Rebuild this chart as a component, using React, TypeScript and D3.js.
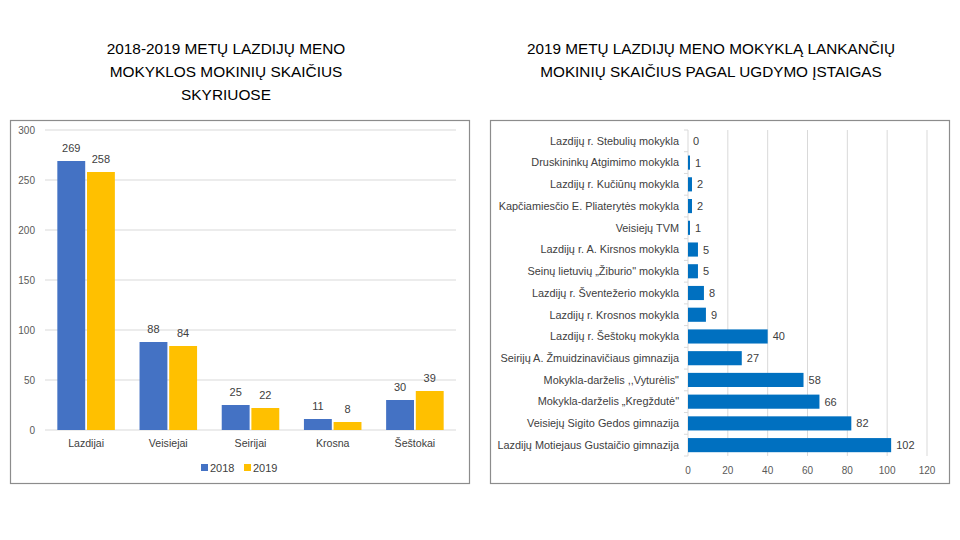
import React from "react";
import * as d3 from "d3";

const towns = ["Lazdijai", "Veisiejai", "Seirijai", "Krosna", "Šeštokai"];
const years = ["2018", "2019"];
const values2018 = [269, 88, 25, 11, 30];
const values2019 = [258, 84, 22, 8, 39];
const leftTicks = [0, 50, 100, 150, 200, 250, 300];

const schools = [
  "Lazdijų r. Stebulių mokykla",
  "Druskininkų Atgimimo mokykla",
  "Lazdijų r. Kučiūnų mokykla",
  "Kapčiamiesčio E. Pliaterytės mokykla",
  "Veisiejų TVM",
  "Lazdijų r. A. Kirsnos mokykla",
  "Seinų lietuvių „Žiburio\" mokykla",
  "Lazdijų r. Šventežerio mokykla",
  "Lazdijų r. Krosnos mokykla",
  "Lazdijų r. Šeštokų mokykla",
  "Seirijų A. Žmuidzinavičiaus gimnazija",
  "Mokykla-darželis ,,Vyturėlis\"",
  "Mokykla-darželis „Kregždutė\"",
  "Veisiejų Sigito Gedos gimnazija",
  "Lazdijų Motiejaus Gustaičio gimnazija",
];
const schoolValues = [0, 1, 2, 2, 1, 5, 5, 8, 9, 40, 27, 58, 66, 82, 102];
const rightTicks = [0, 20, 40, 60, 80, 100, 120];

const FONT = "'Liberation Sans', Arial, sans-serif";
const BLUE = "#4472C4";
const GOLD = "#FFC000";
const BAR2 = "#0070C0";
const GRID = "#d9d9d9";
const TXT = "#404040";

export default function App() {
  // Left chart
  const x0 = d3.scaleBand<string>().domain(towns).range([45, 456]).paddingInner(0.3).paddingOuter(0.15);
  const x1 = d3.scaleBand<string>().domain(years).range([0, x0.bandwidth()]).paddingInner(0.06);
  const yL = d3.scaleLinear().domain([0, 300]).range([430, 130]);
  const seriesVals = [values2018, values2019];
  const colors = [BLUE, GOLD];

  // Right chart
  const xR = d3.scaleLinear().domain([0, 120]).range([688, 927]);
  const yR = d3.scaleBand<string>().domain(schools).range([130, 456]).paddingInner(0.35).paddingOuter(0.175);

  return (
    <svg width={960} height={540} style={{ position: "absolute", left: 0, top: 0, background: "#fff" }} fontFamily={FONT}>
      <rect x={0} y={0} width={960} height={540} fill="#fff" />
      {/* Left title */}
      {["2018-2019 METŲ LAZDIJŲ MENO", "MOKYKLOS MOKINIŲ SKAIČIUS", "SKYRIUOSE"].map((t, i) => (
        <text key={t} x={226} y={54 + i * 23} textAnchor="middle" fontSize={15.4} fill="#000">{t}</text>
      ))}
      {/* Right title */}
      {["2019 METŲ LAZDIJŲ MENO MOKYKLĄ LANKANČIŲ", "MOKINIŲ SKAIČIUS PAGAL UGDYMO ĮSTAIGAS"].map((t, i) => (
        <text key={t} x={711} y={54 + i * 23} textAnchor="middle" fontSize={15.3} fill="#000">{t}</text>
      ))}

      {/* Left box */}
      <rect x={10.5} y={120.5} width={459} height={363} fill="#fff" stroke="#8c8c8c" strokeWidth={1.2} />
      {leftTicks.map((t) => (
        <g key={t}>
          <line x1={45} x2={456} y1={yL(t)} y2={yL(t)} stroke={GRID} strokeWidth={1} />
          <text x={35} y={yL(t) + 3.5} textAnchor="end" fontSize={10} fill="#595959">{t}</text>
        </g>
      ))}
      {towns.map((c, i) => (
        <g key={c}>
          {seriesVals.map((vals, s) => {
            const x = (x0(c) as number) + (x1(years[s]) as number);
            const w = x1.bandwidth();
            return (
              <g key={s}>
                <rect x={x} y={yL(vals[i])} width={w} height={yL(0) - yL(vals[i])} fill={colors[s]} />
                <text x={x + w / 2} y={yL(vals[i]) - 9} textAnchor="middle" fontSize={11} fill={TXT}>{vals[i]}</text>
              </g>
            );
          })}
          <text x={(x0(c) as number) + x0.bandwidth() / 2} y={447} textAnchor="middle" fontSize={10.6} fill={TXT}>{c}</text>
        </g>
      ))}
      {/* Legend */}
      {years.map((yr, s) => (
        <g key={yr}>
          <rect x={201 + s * 43} y={464} width={7} height={7} fill={colors[s]} />
          <text x={210 + s * 43} y={472} fontSize={11} fill={TXT}>{yr}</text>
        </g>
      ))}

      {/* Right box */}
      <rect x={490.5} y={120.5} width={459} height={363} fill="#fff" stroke="#8c8c8c" strokeWidth={1.2} />
      {rightTicks.map((t) => (
        <g key={t}>
          {t > 0 && <line x1={xR(t)} x2={xR(t)} y1={130} y2={456} stroke={GRID} strokeWidth={1} />}
          <text x={xR(t)} y={474} textAnchor="middle" fontSize={10} fill="#595959">{t}</text>
        </g>
      ))}
      <line x1={688} x2={688} y1={130} y2={456} stroke={GRID} strokeWidth={1} />
      {schools.map((s, i) => {
        const y = yR(s) as number;
        const h = yR.bandwidth();
        const step = yR.step();
        return (
          <g key={s}>
            <line x1={684} x2={688} y1={y - (step - h) / 2} y2={y - (step - h) / 2} stroke={GRID} />
            {schoolValues[i] > 0 && (
              <rect x={xR(0)} y={y} width={xR(schoolValues[i]) - xR(0)} height={h} fill={BAR2} />
            )}
            <text x={xR(schoolValues[i]) + 5} y={y + h / 2 + 4} fontSize={11} fill={TXT}>{schoolValues[i]}</text>
            <text x={679} y={y + h / 2 + 3.8} textAnchor="end" fontSize={10.9} fill={TXT}>{s}</text>
          </g>
        );
      })}
      <line x1={684} x2={688} y1={456} y2={456} stroke={GRID} />
    </svg>
  );
}
